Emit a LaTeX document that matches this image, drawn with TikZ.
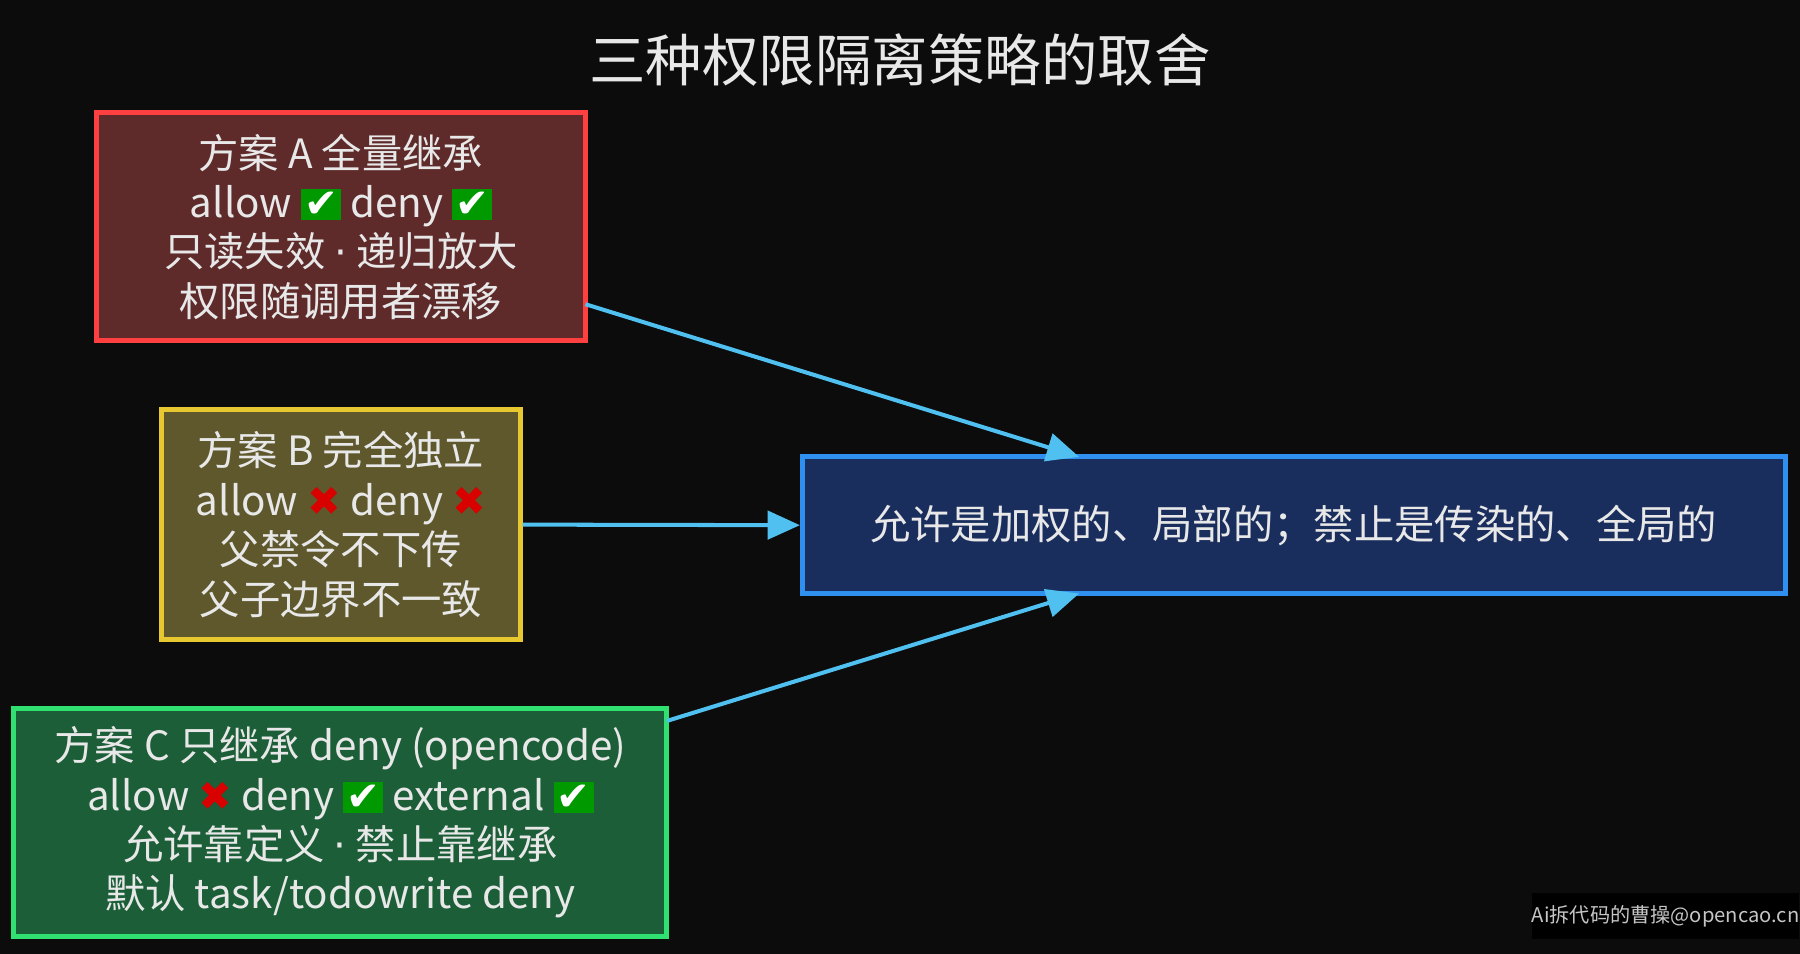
\documentclass[tikz,border=0pt]{standalone}
\usepackage{fontspec}
\setmainfont{Noto Sans CJK SC}
\newfontfamily\symfont{DejaVu Sans}
\usetikzlibrary{arrows.meta}
\definecolor{bgc}{HTML}{0C0C0C}
\definecolor{txt}{HTML}{E8E8E8}
\definecolor{arr}{HTML}{4FC0F0}
\newcommand{\yes}{{\setlength{\fboxsep}{1.5pt}\colorbox{green!60!black}{\color{white}\symfont\bfseries ✔}}}
\newcommand{\no}{{\color{red!85!black}\symfont\bfseries ✖}}
\newcommand{\sep}{{\symfont ·}}
\begin{document}
\begin{tikzpicture}[x=0.02cm,y=-0.02cm,
    box/.style={draw,line width=2.5pt,align=center,text=txt,font=\fontsize{20}{24.5}\selectfont,inner sep=0pt},
    link/.style={draw=arr,line width=2pt,-{Triangle[length=16pt,width=14pt]}}]
    \fill[bgc] (0,0) rectangle (1568,831);
    \useasboundingbox (0,0) rectangle (1568,831);
    \node[text=txt,font=\fontsize{28}{32}\selectfont] (title) at (784,52) {三种权限隔离策略的取舍};

    \node[box,draw=red!75!white,fill={rgb,255:red,94;green,42;blue,42},minimum width=426*0.02cm,minimum height=199*0.02cm] (a) at (297,197.5)
        {方案 A 全量继承\\allow \yes{} deny \yes\\只读失效 \sep{} 递归放大\\权限随调用者漂移};
    \node[box,draw={rgb,255:red,232;green,200;blue,48},fill={rgb,255:red,94;green,88;blue,44},minimum width=312*0.02cm,minimum height=200*0.02cm] (b) at (297,457)
        {方案 B 完全独立\\allow \no{} deny \no\\父禁令不下传\\父子边界不一致};
    \node[box,draw={rgb,255:red,48;green,224;blue,112},fill={rgb,255:red,28;green,94;blue,56},minimum width=569*0.02cm,minimum height=199*0.02cm] (c) at (296.5,716.5)
        {方案 C 只继承 deny (opencode)\\allow \no{} deny \yes{} external \yes\\允许靠定义 \sep{} 禁止靠继承\\默认 task/todowrite deny};
    \node[box,draw={rgb,255:red,48;green,144;blue,240},fill={rgb,255:red,26;green,46;blue,94},minimum width=856*0.02cm,minimum height=119*0.02cm] (t) at (1127,457.5)
        {允许是加权的、局部的；禁止是传染的、全局的};

    \coordinate (a0) at (510,265);
    \coordinate (ta) at (940,398);
    \coordinate (c0) at (581,628);
    \coordinate (tc) at (940,517);
    \path[link] (a0) -- (ta);
    \path[link] (b.east) -- (t.west);
    \path[link] (c0) -- (tc);

    \node[fill=black,text=txt!85!black,font=\fontsize{10}{12}\selectfont,minimum width=208*0.02cm,minimum height=40*0.02cm,inner sep=0pt] (wm) at (1451,798) {Ai拆代码的曹操@opencao.cn};
\end{tikzpicture}
\end{document}
